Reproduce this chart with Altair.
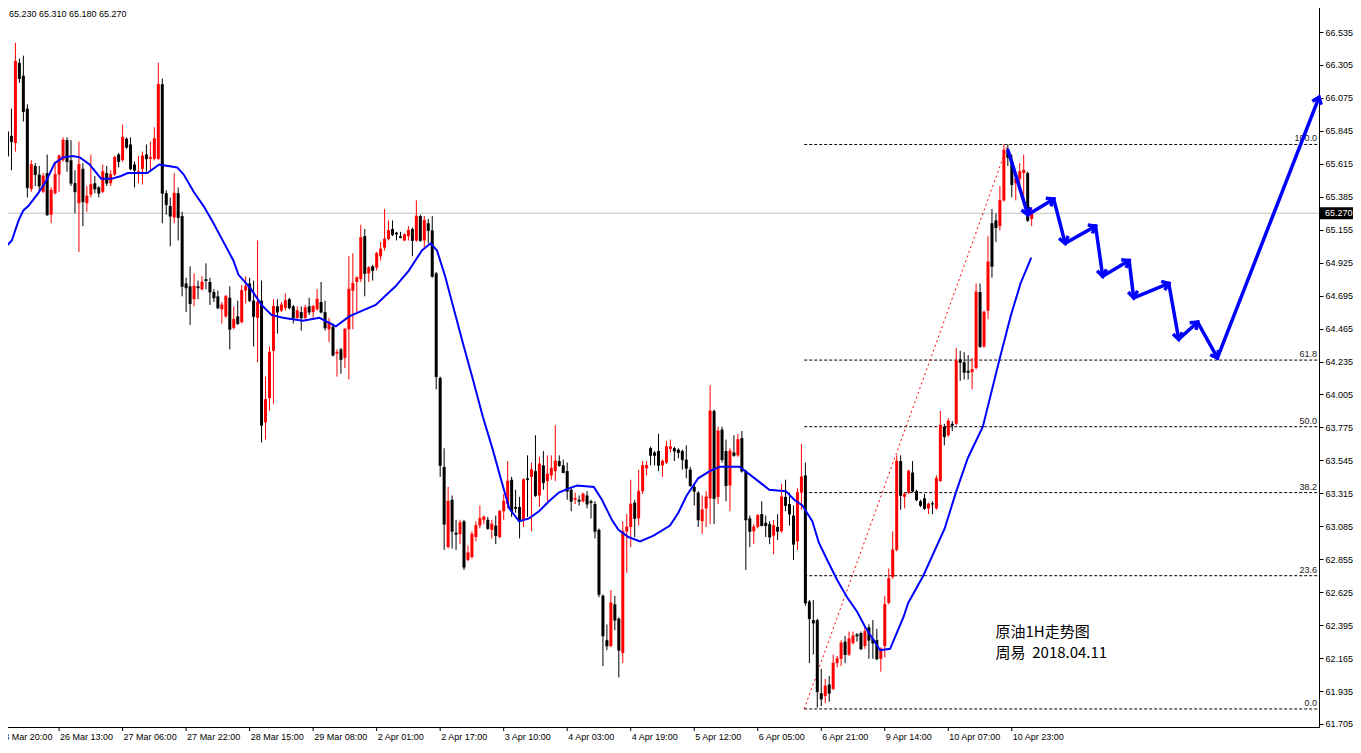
import math
import altair as alt
import pandas as pd

# ---------------- data ----------------
opens = [65.84, 65.81, 65.76, 66.32, 66.23, 66.00, 65.44, 65.60, 65.54, 65.42,
         65.55, 65.26, 65.41, 65.54, 65.64, 65.78, 65.64, 65.48, 65.34, 65.58,
         65.34, 65.40, 65.48, 65.45, 65.42, 65.55, 65.48, 65.54, 65.68, 65.64,
         65.79, 65.75, 65.61, 65.55, 65.58, 65.68, 65.65, 65.65, 65.65, 66.17,
         65.41, 65.32, 65.24, 65.41, 65.25, 64.78, 64.76, 64.67, 64.76, 64.74,
         64.81, 64.79, 64.72, 64.69, 64.60, 64.55, 64.68, 64.47, 64.55, 64.51,
         64.73, 64.78, 64.66, 64.54, 64.66, 63.81, 63.98, 64.31, 64.62, 64.59,
         64.61, 64.67, 64.62, 64.54, 64.58, 64.54, 64.62, 64.58, 64.60, 64.65,
         64.58, 64.46, 64.48, 64.29, 64.32, 64.26, 64.46, 64.73, 64.79, 64.81,
         65.11, 64.85, 64.90, 64.89, 64.97, 65.03, 65.09, 65.16, 65.135, 65.11,
         65.08, 65.11, 65.16, 65.08, 65.25, 65.08, 65.20, 65.15, 64.85, 64.12,
         63.50, 62.94, 63.27, 63.04, 63.03, 63.12, 62.85, 62.87, 63.01, 63.09,
         63.13, 63.13, 63.06, 63.09, 63.01, 63.19, 63.24, 63.41, 63.22, 63.22,
         63.13, 63.42, 63.43, 63.47, 63.30, 63.51, 63.40, 63.44, 63.47, 63.54,
         63.51, 63.47, 63.34, 63.27, 63.27, 63.26, 63.30, 63.26, 63.24, 63.06,
         62.60, 62.29, 62.25, 62.54, 62.44, 62.20, 63.05, 63.08, 63.25, 63.14,
         63.33, 63.49, 63.63, 63.60, 63.61, 63.51, 63.53, 63.625, 63.63, 63.62,
         63.61, 63.55, 63.48, 63.36, 63.32, 63.12, 63.21, 63.28, 63.89, 63.29,
         63.76, 63.61, 63.37, 63.60, 63.58, 63.70, 63.47, 63.14, 63.05, 63.08,
         63.17, 63.11, 63.10, 63.02, 63.08, 63.05, 63.29, 63.24, 63.16, 62.98,
         63.32, 63.44, 62.56, 62.43, 62.43, 61.92, 61.90, 61.98, 61.95, 62.13,
         62.16, 62.28, 62.19, 62.27, 62.33, 62.34, 62.25, 62.38, 62.30, 62.29,
         62.16, 62.25, 62.55, 62.73, 62.92, 63.54, 63.29, 63.32, 63.46, 63.33,
         63.26, 63.28, 63.21, 63.245, 63.21, 63.40, 63.78, 63.72, 63.80, 63.80,
         64.25, 64.23, 64.17, 64.16, 64.19, 64.72, 64.34, 64.59, 65.20, 65.22,
         65.18, 65.36, 65.71, 65.63, 65.48, 65.51, 65.55, 65.55, 65.23]
highs = [65.91, 66.00, 66.46, 66.35, 66.37, 66.03, 65.64, 65.62, 65.60, 65.55,
         65.68, 65.45, 65.63, 65.68, 65.80, 65.80, 65.78, 65.57, 65.77, 65.62,
         65.46, 65.68, 65.53, 65.46, 65.61, 65.60, 65.57, 65.67, 65.69, 65.89,
         65.80, 65.80, 65.63, 65.67, 65.70, 65.75, 65.77, 65.87, 66.32, 66.21,
         65.43, 65.38, 65.55, 65.45, 65.28, 64.82, 64.90, 64.85, 64.80, 64.83,
         64.92, 64.82, 64.74, 64.73, 64.65, 64.70, 64.76, 64.62, 64.66, 64.77,
         64.83, 64.82, 64.80, 65.08, 64.80, 64.13, 64.34, 64.67, 64.67, 64.65,
         64.71, 64.68, 64.63, 64.62, 64.62, 64.63, 64.68, 64.63, 64.74, 64.79,
         64.66, 64.54, 64.50, 64.32, 64.33, 64.47, 64.97, 64.99, 64.83, 65.19,
         65.16, 64.90, 64.91, 65.00, 65.07, 65.30, 65.22, 65.22, 65.14, 65.14,
         65.13, 65.18, 65.17, 65.36, 65.26, 65.25, 65.23, 65.25, 64.86, 64.13,
         63.63, 63.36, 63.30, 63.13, 63.13, 63.13, 62.95, 63.05, 63.12, 63.23,
         63.16, 63.15, 63.13, 63.16, 63.20, 63.31, 63.54, 63.43, 63.34, 63.29,
         63.42, 63.58, 63.53, 63.72, 63.57, 63.61, 63.58, 63.58, 63.79, 63.58,
         63.55, 63.53, 63.36, 63.32, 63.30, 63.32, 63.33, 63.27, 63.26, 63.07,
         62.61, 62.40, 62.64, 62.60, 62.45, 63.12, 63.17, 63.41, 63.27, 63.48,
         63.54, 63.54, 63.64, 63.61, 63.73, 63.55, 63.68, 63.69, 63.64, 63.63,
         63.62, 63.65, 63.50, 63.38, 63.33, 63.30, 63.33, 64.07, 63.90, 63.78,
         63.78, 63.69, 63.63, 63.72, 63.73, 63.75, 63.48, 63.16, 63.10, 63.17,
         63.26, 63.16, 63.12, 63.13, 63.17, 63.38, 63.41, 63.32, 63.23, 63.35,
         63.66, 63.53, 62.57, 62.57, 62.44, 62.09, 62.02, 62.04, 62.19, 62.18,
         62.29, 62.32, 62.35, 62.35, 62.34, 62.35, 62.38, 62.40, 62.43, 62.37,
         62.24, 62.60, 62.79, 63.05, 63.58, 63.58, 63.32, 63.48, 63.54, 63.34,
         63.27, 63.31, 63.25, 63.26, 63.44, 63.89, 63.80, 63.84, 63.82, 64.33,
         64.31, 64.30, 64.28, 64.26, 64.78, 64.78, 64.59, 65.11, 65.30, 65.27,
         65.46, 65.75, 65.75, 65.68, 65.56, 65.62, 65.68, 65.56, 65.31]
lows = [65.66, 65.57, 65.70, 66.18, 65.91, 65.38, 65.42, 65.46, 65.42, 65.41,
        65.25, 65.20, 65.40, 65.42, 65.63, 65.56, 65.46, 65.27, 65.00, 65.18,
        65.28, 65.38, 65.41, 65.38, 65.41, 65.46, 65.46, 65.53, 65.59, 65.63,
        65.72, 65.57, 65.45, 65.48, 65.47, 65.56, 65.57, 65.64, 65.64, 65.20,
        65.26, 65.04, 65.20, 65.08, 64.69, 64.58, 64.49, 64.62, 64.67, 64.73,
        64.74, 64.63, 64.65, 64.60, 64.50, 64.54, 64.32, 64.46, 64.49, 64.50,
        64.64, 64.65, 64.34, 64.23, 63.67, 63.69, 63.89, 63.94, 64.43, 64.58,
        64.59, 64.60, 64.50, 64.53, 64.45, 64.53, 64.56, 64.54, 64.59, 64.57,
        64.45, 64.37, 64.27, 64.13, 64.15, 64.19, 64.11, 64.46, 64.58, 64.79,
        64.69, 64.79, 64.80, 64.87, 64.94, 65.01, 65.08, 65.11, 65.08, 65.095,
        65.075, 65.08, 64.97, 65.07, 65.07, 65.03, 65.06, 64.82, 64.04, 63.43,
        62.92, 62.93, 62.93, 62.92, 62.96, 62.78, 62.84, 62.86, 62.98, 63.07,
        63.10, 63.06, 63.00, 62.96, 63.00, 63.13, 63.21, 63.15, 63.18, 63.00,
        63.08, 63.15, 63.05, 63.29, 63.22, 63.34, 63.26, 63.41, 63.40, 63.50,
        63.455, 63.27, 63.19, 63.24, 63.23, 63.25, 63.21, 63.14, 63.00, 62.59,
        62.11, 62.22, 62.24, 62.36, 62.03, 62.13, 62.76, 62.94, 63.01, 63.09,
        63.31, 63.44, 63.51, 63.51, 63.47, 63.43, 63.52, 63.60, 63.54, 63.56,
        63.48, 63.42, 63.36, 63.23, 63.08, 63.03, 63.08, 63.10, 63.10, 63.24,
        63.53, 63.26, 63.19, 63.57, 63.57, 63.46, 62.78, 62.94, 62.96, 63.07,
        63.085, 63.01, 62.96, 62.89, 62.99, 63.04, 63.19, 63.09, 62.85, 62.92,
        63.20, 62.53, 62.13, 62.19, 61.82, 61.83, 61.85, 61.86, 61.94, 62.10,
        62.11, 62.13, 62.18, 62.26, 62.28, 62.22, 62.23, 62.16, 62.16, 62.15,
        62.07, 62.17, 62.54, 62.72, 62.91, 63.20, 63.21, 63.31, 63.32, 63.26,
        63.22, 63.20, 63.17, 63.17, 63.20, 63.395, 63.65, 63.71, 63.75, 63.79,
        64.10, 64.11, 64.11, 64.04, 64.18, 64.33, 64.33, 64.53, 64.82, 65.07,
        65.15, 65.35, 65.60, 65.38, 65.36, 65.46, 65.32, 65.21, 65.18]
closes = [65.67, 65.77, 66.33, 66.21, 65.98, 65.45, 65.61, 65.54, 65.46, 65.53,
          65.26, 65.43, 65.54, 65.67, 65.78, 65.63, 65.48, 65.42, 65.61, 65.35,
          65.39, 65.47, 65.44, 65.41, 65.56, 65.48, 65.54, 65.66, 65.63, 65.80,
          65.73, 65.58, 65.57, 65.56, 65.67, 65.65, 65.66, 65.79, 66.17, 65.41,
          65.33, 65.25, 65.41, 65.24, 64.76, 64.75, 64.64, 64.76, 64.75, 64.79,
          64.80, 64.72, 64.68, 64.61, 64.63, 64.69, 64.46, 64.53, 64.50, 64.73,
          64.76, 64.66, 64.55, 64.65, 63.79, 63.97, 64.30, 64.62, 64.58, 64.63,
          64.66, 64.61, 64.54, 64.59, 64.54, 64.61, 64.58, 64.62, 64.67, 64.58,
          64.47, 64.51, 64.28, 64.30, 64.25, 64.46, 64.74, 64.78, 64.82, 65.10,
          64.85, 64.89, 64.87, 64.99, 65.02, 65.09, 65.15, 65.12, 65.125, 65.10,
          65.12, 65.15, 65.08, 65.25, 65.08, 65.22, 65.15, 64.83, 64.13, 63.51,
          63.10, 63.26, 63.05, 63.03, 63.11, 62.80, 62.90, 63.03, 63.09, 63.14,
          63.15, 63.07, 63.10, 63.02, 63.19, 63.26, 63.40, 63.19, 63.21, 63.13,
          63.41, 63.41, 63.48, 63.30, 63.52, 63.39, 63.45, 63.49, 63.54, 63.51,
          63.46, 63.33, 63.26, 63.28, 63.26, 63.31, 63.24, 63.25, 63.05, 62.61,
          62.32, 62.25, 62.55, 62.43, 62.22, 63.05, 63.08, 63.24, 63.14, 63.33,
          63.51, 63.51, 63.58, 63.58, 63.51, 63.54, 63.64, 63.64, 63.61, 63.60,
          63.55, 63.49, 63.37, 63.33, 63.13, 63.20, 63.29, 63.89, 63.28, 63.75,
          63.55, 63.37, 63.61, 63.58, 63.69, 63.47, 63.13, 63.05, 63.08, 63.16,
          63.09, 63.09, 63.01, 63.09, 63.05, 63.29, 63.23, 63.17, 62.96, 63.32,
          63.43, 62.55, 62.44, 62.41, 61.93, 61.88, 61.97, 61.92, 62.13, 62.16,
          62.27, 62.19, 62.30, 62.32, 62.32, 62.23, 62.35, 62.29, 62.27, 62.16,
          62.23, 62.54, 62.72, 62.92, 63.54, 63.30, 63.31, 63.47, 63.33, 63.27,
          63.23, 63.21, 63.24, 63.24, 63.42, 63.79, 63.71, 63.82, 63.79, 64.24,
          64.23, 64.16, 64.16, 64.18, 64.72, 64.34, 64.58, 64.93, 64.90, 65.17,
          65.36, 65.71, 65.66, 65.47, 65.51, 65.56, 65.57, 65.22, 65.27]

# moving average line (bar position, value)
ma_bar = [-0.6, 1.1, 2.8, 4.0, 5.25, 7.75, 9.85, 11.9, 14.0, 16.5, 18.2, 20.7, 23.6,
          26.2, 28.6, 30.3, 35.25, 38.2, 42.75, 44.4, 46.9, 49.4, 51.9, 54.4, 56.9,
          58.2, 61.1, 64.0, 66.5, 69.4, 74.4, 78.6, 82.75, 86.1, 89.4, 92.75, 97.75,
          101.1, 104.4, 106.6, 108.2, 110.25, 112.25, 114.75, 117.25, 119.75, 122.25,
          124.35, 126.4, 128.9, 131.4, 133.9, 136.4, 138.9, 141.4, 143.5, 147.7,
          149.75, 152.25, 153.9, 156.4, 159.35, 162.75, 166.9, 169.0, 171.1, 174.0,
          176.9, 179.4, 184.4, 187.75, 191.9, 196.1, 198.2, 200.25, 202.75, 204.4,
          206.5, 209.0, 211.5, 214.0, 216.1, 218.2, 219.85, 222.35, 224.0, 225.7,
          226.9, 230.7, 236.1, 238.9, 241.9, 245.7, 249.9, 252.7, 255.2, 257.9]
ma_val = [65.03, 65.08, 65.22, 65.29, 65.32, 65.41, 65.50, 65.62, 65.66, 65.67, 65.66,
          65.61, 65.51, 65.51, 65.53, 65.55, 65.55, 65.61, 65.59, 65.54, 65.42, 65.32,
          65.20, 65.07, 64.94, 64.84, 64.75, 64.63, 64.56, 64.54, 64.52, 64.54, 64.48,
          64.55, 64.59, 64.63, 64.76, 64.87, 65.01, 65.06, 65.01, 64.83, 64.62, 64.36,
          64.11, 63.85, 63.62, 63.41, 63.21, 63.12, 63.14, 63.19, 63.26, 63.32, 63.35,
          63.37, 63.36, 63.27, 63.13, 63.06, 63.01, 62.98, 63.02, 63.09, 63.18, 63.30,
          63.42, 63.47, 63.50, 63.50, 63.43, 63.34, 63.33, 63.27, 63.23, 63.12, 62.97,
          62.85, 62.71, 62.59, 62.49, 62.38, 62.29, 62.22, 62.23, 62.34, 62.45, 62.55,
          62.74, 63.07, 63.32, 63.56, 63.78, 64.25, 64.55, 64.78, 64.96]

# Fibonacci retracement
fib_names = ["0.0", "23.6", "38.2", "50.0", "61.8", "100.0"]
fib_vals = [61.81, 62.74, 63.32, 63.78, 64.245, 65.75]
fib_start_bar = 200.7
fib_trend_bar = [200.7, 252.0]
fib_trend_val = [61.81, 65.75]

# hand-drawn forecast arrows (bar position, price)
arrow_bar = [252.05, 257.05, 263.55, 266.45, 274.1, 275.9, 282.55, 283.7,
             292.55, 295.05, 299.8, 304.8, 330.4]
arrow_val = [65.71, 65.26, 65.37, 65.06, 65.18, 64.83, 64.94, 64.68,
             64.78, 64.39, 64.51, 64.26, 66.08]

time_tick_bar = [-2.3, 13, 29, 45, 61, 77, 93, 109, 125, 141, 157, 173, 189, 205, 221, 237, 253]
time_tick_label = ["23 Mar 20:00", "26 Mar 13:00", "27 Mar 06:00", "27 Mar 22:00",
                   "28 Mar 15:00", "29 Mar 08:00", "2 Apr 01:00", "2 Apr 17:00",
                   "3 Apr 10:00", "4 Apr 03:00", "4 Apr 19:00", "5 Apr 12:00",
                   "6 Apr 05:00", "6 Apr 21:00", "9 Apr 14:00", "10 Apr 07:00",
                   "10 Apr 23:00"]
price_ticks = [66.535, 66.305, 66.075, 65.845, 65.615, 65.385, 65.155, 64.925,
               64.695, 64.465, 64.235, 64.005, 63.775, 63.545, 63.315, 63.085,
               62.855, 62.625, 62.395, 62.165, 61.935, 61.705]

note_lines = ["原油1H走势图", "周易 \u00a02018.04.11"]
note_bar = 248.9
note_vals = [62.347, 62.20]

# ---------------- chart ----------------
W, H = 1319, 721
X_DOM = [-0.625, 329.125]
Y_DOM = [61.684, 66.7165]
FONT = "Liberation Sans"
FS = 9
BLUE = "#0000ff"
PXB = W / (X_DOM[1] - X_DOM[0])
PXP = H / (Y_DOM[1] - Y_DOM[0])

xs = alt.Scale(domain=X_DOM, nice=False, zero=False)
ys = alt.Scale(domain=Y_DOM, nice=False, zero=False)
yaxis = alt.Axis(orient="right", values=price_ticks, format=".3f", tickSize=4,
                 tickColor="black", domainColor="black", labelColor="black",
                 labelFont=FONT, labelFontSize=FS, labelPadding=2, grid=False,
                 title=None, labelOverlap=False, labelFlush=False)


def X(f):
    return alt.X(f, type="quantitative", scale=xs, axis=None)


def Y(f):
    return alt.Y(f, type="quantitative", scale=ys, axis=yaxis)


n = len(opens)
candles = pd.DataFrame({
    "i": list(range(n)), "o": opens, "h": highs, "l": lows, "c": closes,
    "dir": ["up" if c > o else "down" for o, c in zip(opens, closes)],
})
cscale = alt.Scale(domain=["up", "down"], range=["#ff0000", "#000000"])
col = alt.Color("dir:N", scale=cscale, legend=None)

wicks = alt.Chart(candles).mark_rule(strokeWidth=1).encode(
    x=X("i"), y=Y("l"), y2="h", color=col)
bodies = alt.Chart(candles).mark_bar(size=3).encode(
    x=X("i"), y=Y("o"), y2="c", color=col)
doji = alt.Chart(candles).mark_tick(orient="horizontal", size=3, thickness=1).encode(
    x=X("i"), y=Y("c"), color=col)

last = candles.iloc[-1]
cur = pd.DataFrame({"v": [last["c"]], "lab": [f"{last['c']:.3f}"]})
cur_line = alt.Chart(cur).mark_rule(color="#c0c0c0", strokeWidth=1).encode(
    x=alt.value(0), x2=alt.value(W), y=Y("v"))
cur_box = alt.Chart(cur).transform_calculate(
    top="datum.v + 0.042", bot="datum.v - 0.042").mark_rect(color="black").encode(
    x=alt.value(W + 1), x2=alt.value(W + 34), y=Y("top:Q"), y2="bot:Q")
cur_txt = alt.Chart(cur).mark_text(align="left", baseline="middle", font=FONT,
                                   fontSize=FS, color="white").encode(
    x=alt.value(W + 6), y=Y("v"), text="lab:N")

fib = pd.DataFrame({"name": fib_names, "v": fib_vals, "b0": [fib_start_bar] * len(fib_vals)})
fib_lines = alt.Chart(fib).mark_rule(color="black", strokeWidth=1, strokeDash=[3, 2]).encode(
    x=X("b0"), x2=alt.value(W), y=Y("v"))
fib_text = alt.Chart(fib).mark_text(align="right", baseline="bottom", dx=-2, dy=-1,
                                    font=FONT, fontSize=FS, color="#202020").encode(
    x=alt.value(W), y=Y("v"), text="name:N")
trend = alt.Chart(pd.DataFrame({"b": fib_trend_bar, "v": fib_trend_val})).mark_line(
    color="#ff0000", strokeWidth=1, strokeDash=[2, 3]).encode(x=X("b"), y=Y("v"))

ma = alt.Chart(pd.DataFrame({"b": ma_bar, "v": ma_val})).mark_line(
    color=BLUE, strokeWidth=2).encode(x=X("b"), y=Y("v"))

segs = []
for k in range(1, len(arrow_bar)):
    dx = (arrow_bar[k] - arrow_bar[k - 1]) * PXB
    dy = -(arrow_val[k] - arrow_val[k - 1]) * PXP
    ang = math.degrees(math.atan2(dx, -dy)) % 360
    segs.append({"b1": arrow_bar[k - 1], "p1": arrow_val[k - 1],
                 "b2": arrow_bar[k], "p2": arrow_val[k], "ang": ang})
segs = pd.DataFrame(segs)
arrow_lines = alt.Chart(segs).mark_rule(color=BLUE, strokeWidth=3.5, strokeCap="round").encode(
    x=X("b1"), y=Y("p1"), x2="b2", y2="p2")
CHEVRON = "M-0.75,1L0,0L0.75,1"
arrow_heads = alt.Chart(segs).mark_point(shape=CHEVRON, filled=False, color=BLUE,
                                         strokeWidth=3.5, size=160, opacity=1).encode(
    x=X("b2"), y=Y("p2"), angle=alt.Angle("ang:Q", scale=None))

notes = alt.Chart(pd.DataFrame({"t": note_lines, "v": note_vals, "b": [note_bar] * 2})).mark_text(
    align="left", baseline="middle", font="Noto Sans CJK SC", fontSize=15, color="black").encode(
    x=X("b"), y=Y("v"), text="t:N")

header = alt.Chart(pd.DataFrame({"t": [" ".join(f"{last[k]:.3f}" for k in ["o", "h", "l", "c"])]})).mark_text(
    align="left", baseline="middle", font=FONT, fontSize=FS, color="black").encode(
    x=alt.value(9), y=alt.value(8), text="t:N")

tt = pd.DataFrame({"b": time_tick_bar, "t": time_tick_label})
tticks = alt.Chart(tt).mark_rule(color="black", strokeWidth=1).encode(
    x=X("b"), y=alt.value(H), y2=alt.value(H + 4))
tlabels = alt.Chart(tt).mark_text(align="left", baseline="middle", dx=1, font=FONT,
                                  fontSize=FS, color="black").encode(
    x=X("b"), y=alt.value(H + 10), text="t:N")

chart = alt.layer(
    cur_line, fib_lines, trend, wicks, bodies, doji, ma, fib_text,
    arrow_lines, arrow_heads, notes, header, tticks, tlabels, cur_box, cur_txt,
).properties(
    width=W, height=H,
    autosize=alt.AutoSizeParams(type="none"),
    padding={"left": -8, "top": -2, "right": 34, "bottom": 17},
).configure_view(stroke="black", strokeWidth=1)

chart.save("out.html", embed_options={"renderer": "svg", "actions": False})
